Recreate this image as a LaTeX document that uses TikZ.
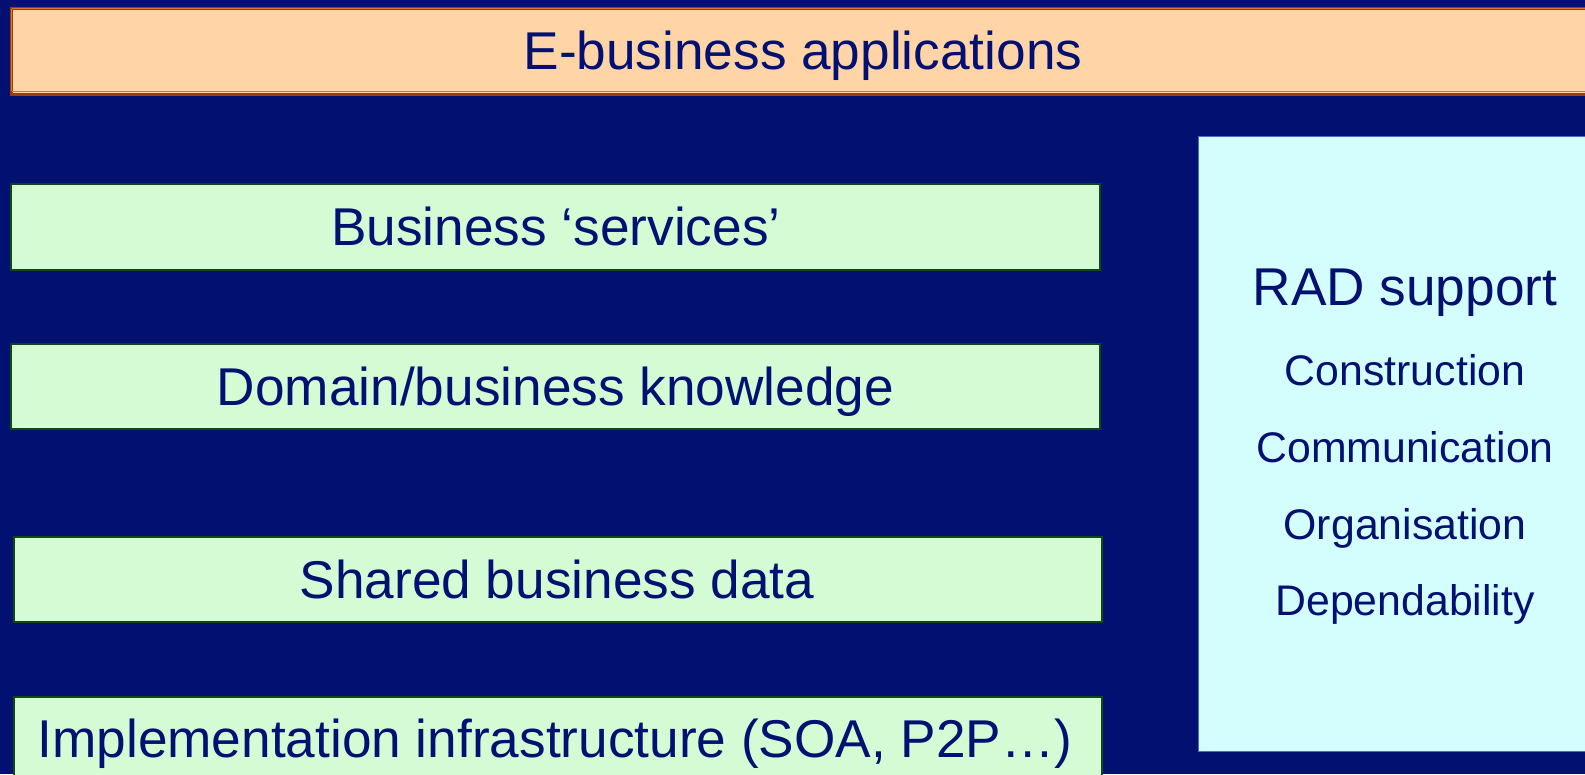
\documentclass[tikz,border=0pt]{standalone}
\usepackage{fontspec}
\setmainfont{Liberation Sans}
\definecolor{navy}{HTML}{021072}
\definecolor{peach}{HTML}{FFD5A8}
\definecolor{peachline}{HTML}{9A3E0C}
\definecolor{peachinner}{HTML}{D8782C}
\definecolor{mint}{HTML}{D4FBD4}
\definecolor{mintline}{HTML}{0C4A12}
\definecolor{ice}{HTML}{D4FEFE}
\definecolor{iceline}{HTML}{4C6CCC}
\begin{document}
\begin{tikzpicture}[x=1pt,y=-1pt,
  layerbox/.style={draw=mintline,fill=mint,line width=2pt,inner sep=0pt,anchor=north west},
  appbox/.style={draw=peachline,fill=peach,line width=2.6pt,inner sep=0pt,anchor=north west},
  radbox/.style={draw=iceline,fill=ice,line width=1.2pt,inner sep=0pt,anchor=north west},
  bigtext/.style={text=navy,anchor=base,inner sep=0pt,font=\fontsize{53.2}{60}\selectfont},
  smalltext/.style={text=navy,anchor=base,inner sep=0pt,font=\fontsize{42.8}{50}\selectfont}]
  % page background
  \fill[navy] (0,0) rectangle (1585,774);
  \useasboundingbox (0,0) rectangle (1585,774);

  % top layer: applications
  \node[appbox,minimum width=1590pt,minimum height=86pt] (apps) at (10,7) {};
  \draw[peachinner,line width=0.8pt] (11.8,8.8) -- (1590,8.8);
  \draw[peachinner,line width=0.8pt] (11.8,91.2) -- (1590,91.2);
  \draw[peachinner,line width=0.8pt] (11.8,8.8) -- (11.8,91.2);
  \node[bigtext] (appsT) at (803,69.5) {E-business applications};

  % stacked layers
  \node[layerbox,minimum width=1089pt,minimum height=86pt] (svc) at (10,183) {};
  \node[bigtext] (svcT) at (556,245) {Business ‘services’};

  \node[layerbox,minimum width=1089pt,minimum height=85pt] (dom) at (10,343) {};
  \node[bigtext] (domT) at (555.5,405) {Domain/business knowledge};

  \node[layerbox,minimum width=1088pt,minimum height=85pt] (data) at (13,536) {};
  \node[bigtext] (dataT) at (557,598) {Shared business data};

  \node[layerbox,minimum width=1088pt,minimum height=100pt] (infra) at (13,696) {};
  \node[bigtext] (infraT) at (555,757) {Implementation infrastructure (SOA, P2P…)};

  % side column: RAD support
  \node[radbox,minimum width=400pt,minimum height=615pt] (rad) at (1198,136) {};
  \node[bigtext] (radT) at (1405,305) {RAD support};
  \node[smalltext] (c1) at (1405,385) {Construction};
  \node[smalltext] (c2) at (1405,462) {Communication};
  \node[smalltext] (c3) at (1405,539) {Organisation};
  \node[smalltext] (c4) at (1405,615) {Dependability};
\end{tikzpicture}
\end{document}
